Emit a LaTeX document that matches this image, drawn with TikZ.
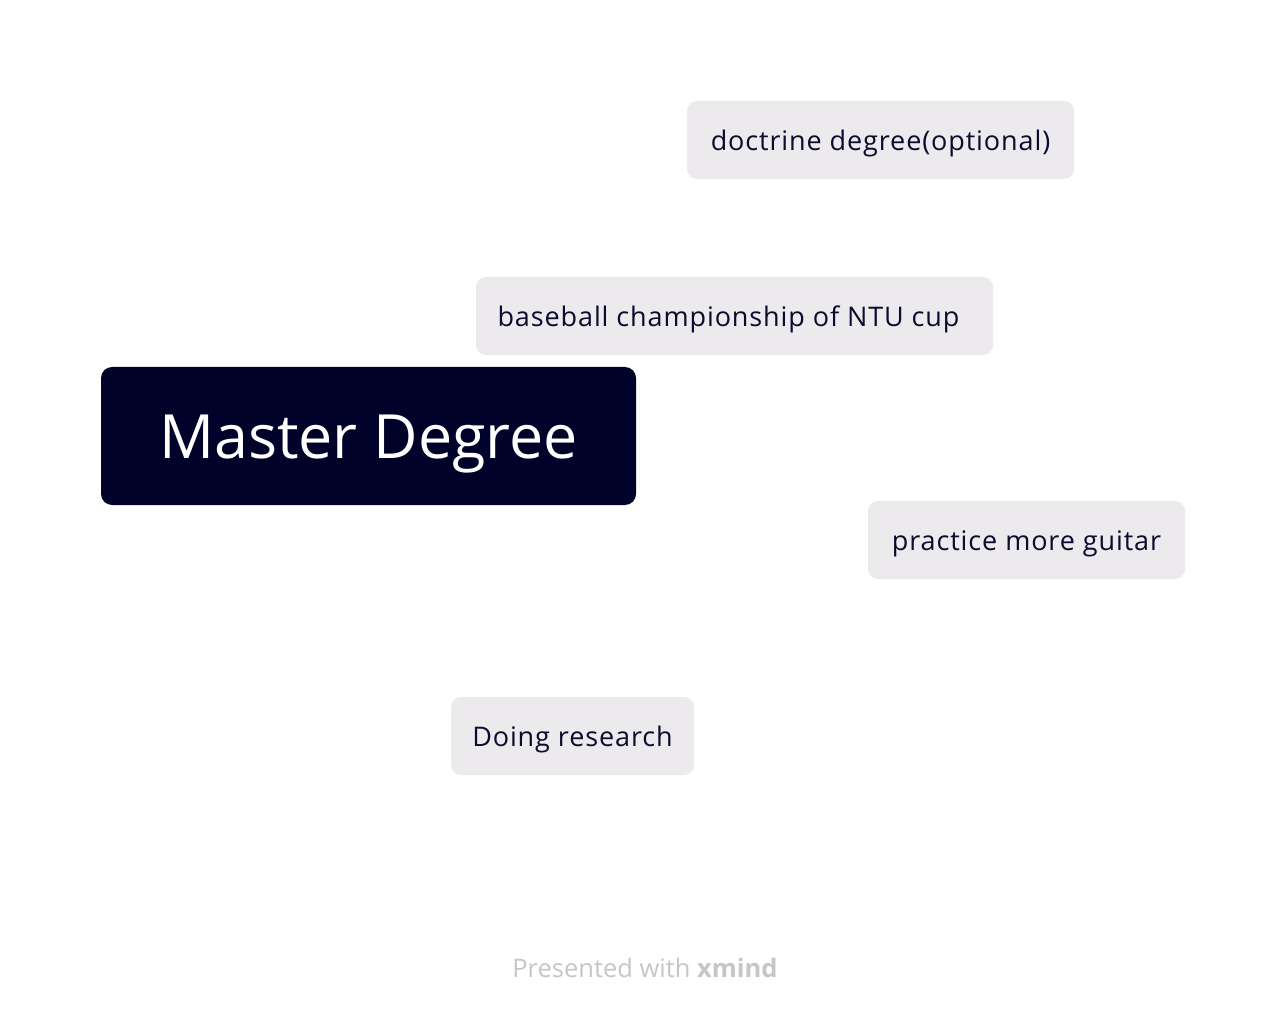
\documentclass[tikz,border=0pt]{standalone}
\usepackage{fontspec}
\setmainfont{Open Sans}
\newfontfamily\topicfont[LetterSpace=3.3]{Open Sans}
\definecolor{navy}{HTML}{000229}
\definecolor{chip}{HTML}{ECEAED}
\definecolor{chiptext}{HTML}{0B0B2E}
\definecolor{footer}{HTML}{C6C6C6}
\begin{document}
\begin{tikzpicture}[x=1pt,y=-1pt,
  central/.style={fill=navy, rounded corners=11pt, text=white, inner sep=0pt,
    text height=44pt, text depth=0pt, font=\fontsize{61}{70}\selectfont},
  topic/.style={fill=chip, rounded corners=10pt, text=chiptext, inner sep=0pt,
    text height=21pt, text depth=0pt,
    minimum height=78pt, font=\topicfont\fontsize{27}{30}\selectfont}]
\useasboundingbox[fill=white] (0,0) rectangle (1286,1016);
\node[central, minimum width=535pt, minimum height=138pt] (master) at (368.5,436) {Master Degree};
\node[topic, minimum width=387pt] (doct) at (880.5,140) {doctrine degree(optional)};
\node[topic, minimum width=517pt] (base) at (734.5,316) {baseball championship of NTU cup\kern12pt\null};
\node[topic, minimum width=317pt] (guitar) at (1026.5,540) {practice more guitar};
\node[topic, minimum width=243pt] (research) at (572.5,736) {Doing research};
\node[text=footer, inner sep=0pt, font=\fontsize{25.5}{30}\selectfont] (foot) at (645,968) {Presented with \textbf{xmind}};
\end{tikzpicture}
\end{document}
